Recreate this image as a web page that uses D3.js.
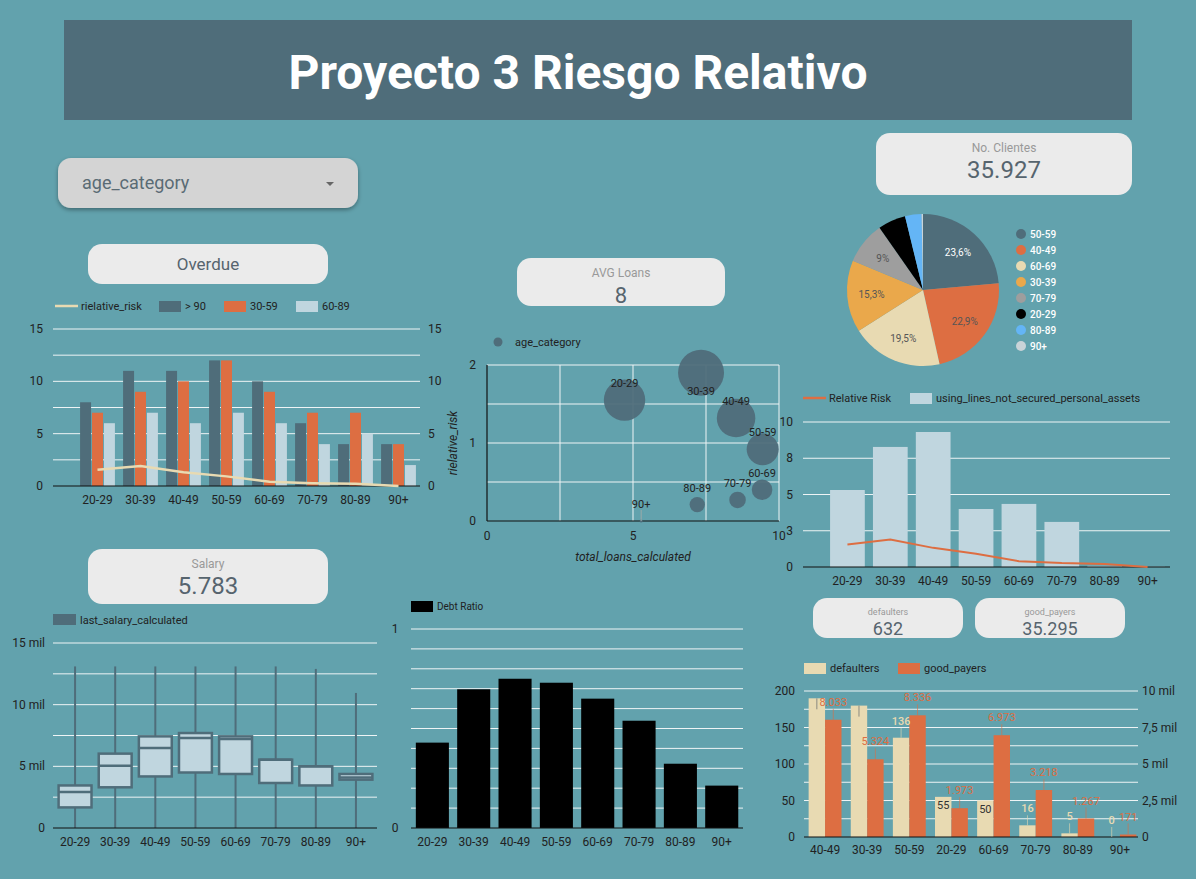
<!DOCTYPE html>
<html>
<head>
<meta charset="utf-8">
<script src="https://cdn.jsdelivr.net/npm/d3@7"></script>
<style>
  body { margin: 0; background: #62a2ad; }
  text { font-family: Roboto, 'Noto Sans', sans-serif; }
</style>
</head>
<body>
<script>
const ageCats = ['20-29', '30-39', '40-49', '50-59', '60-69', '70-79', '80-89', '90+']

// overdue counts per age group
const overdue90 = [8, 11, 11, 12, 10, 6, 4, 4]
const overdue30_59 = [7, 9, 10, 12, 9, 7, 7, 4]
const overdue60_89 = [6, 7, 6, 7, 6, 4, 5, 2]
const relativeRisk = [1.55, 1.9, 1.32, 0.92, 0.4, 0.27, 0.21, 0]

// bubble chart
const totalLoans = [4.71, 7.33, 8.53, 9.44, 9.42, 8.58, 7.2, 5.28]
const bubbleSize = [430, 530, 372, 256, 106, 69, 59, 2]

// unsecured lines
const unsecuredLines = [5.31, 8.28, 9.31, 4.0, 4.35, 3.11, 0.08, 0.02]

// pie
const pieCats = ['50-59', '40-49', '60-69', '30-39', '70-79', '20-29', '80-89', '90+']
const piePct = [23.6, 22.9, 19.5, 15.3, 9.0, 5.9, 3.5, 0.3]

// salary boxplot
const salaryMin = [0, 0, 0, 0, 0, 0, 0, 0]
const salaryQ1 = [1670, 3300, 4180, 4500, 4380, 3650, 3450, 3920]
const salaryMedian = [2920, 5050, 6490, 7300, 7220, 5540, 5000, 4100]
const salaryQ3 = [3450, 6030, 7430, 7700, 7430, 5540, 5000, 4380]
const salaryMax = [13100, 13100, 13100, 13100, 13100, 13100, 12900, 10950]

const debtRatio = [0.429, 0.697, 0.75, 0.73, 0.65, 0.539, 0.323, 0.213]

const payerCats = ['40-49', '30-39', '50-59', '20-29', '60-69', '70-79', '80-89', '90+']
const defaulters = [190, 180, 136, 55, 50, 16, 5, 0]
const goodPayers = [8033, 5324, 8336, 1973, 6973, 3218, 1267, 171]
const defaulterLabelsInside = ['20-29', '60-69']

const C = {
  dark: '#4f6d7a', orange: '#dd6e42', light: '#c0d6df', beige: '#e8dab2',
  grid: '#eef4f5', text: '#212121', card: '#ebebeb'
}
const pieColors = ['#4f6d7a', '#dd6e42', '#e8dab2', '#eaa84b', '#9e9e9e', '#000000', '#64b5f6', '#c9d3d8']

const loc = d3.formatLocale({ decimal: ',', thousands: '.', grouping: [3], currency: ['', ''] })
const fmtInt = loc.format(',d')
const fmtPct = d => loc.format('.1f')(d).replace(',0', '') + '%'

const svg = d3.select('body').append('svg')
  .attr('width', 1196)
  .attr('height', 879)

const defs = svg.append('defs')
const shadow = defs.append('filter').attr('id', 'shadow')
  .attr('x', '-10%').attr('y', '-20%').attr('width', '120%').attr('height', '150%')
shadow.append('feDropShadow').attr('dx', 0).attr('dy', 2).attr('stdDeviation', 2)
  .attr('flood-color', '#000').attr('flood-opacity', 0.35)

svg.append('rect').attr('width', 1196).attr('height', 879).attr('fill', '#62a2ad')

// title
svg.append('rect').attr('x', 64).attr('y', 20).attr('width', 1068).attr('height', 100).attr('fill', C.dark)
svg.append('text').attr('x', 578).attr('y', 89).attr('text-anchor', 'middle')
  .attr('fill', '#fff').attr('font-size', 48).attr('font-weight', 'bold')
  .text('Proyecto 3 Riesgo Relativo')

// filter control
svg.append('rect').attr('x', 58).attr('y', 158).attr('width', 300).attr('height', 50).attr('rx', 13)
  .attr('fill', '#d4d4d4').attr('filter', 'url(#shadow)')
svg.append('text').attr('x', 82).attr('y', 189).attr('font-size', 18).attr('fill', '#5a6b74').text('age_category')
svg.append('path').attr('d', 'M326,182 L334,182 L330,186 Z').attr('fill', '#666')

function card(x, y, w, h, label, value, o) {
  svg.append('rect').attr('x', x).attr('y', y).attr('width', w).attr('height', h).attr('rx', 14).attr('fill', C.card)
  if (label) {
    svg.append('text').attr('x', x + w / 2).attr('y', o.ly).attr('text-anchor', 'middle')
      .attr('font-size', o.ls).attr('fill', '#999').text(label)
  }
  svg.append('text').attr('x', x + w / 2).attr('y', o.vy).attr('text-anchor', 'middle')
    .attr('font-size', o.vs).attr('fill', '#56646e').text(value)
}

card(88, 244, 240, 40, null, 'Overdue', { vy: 270, vs: 17 })
card(517, 258, 208, 48, 'AVG Loans', '8', { ly: 277, ls: 12, vy: 303, vs: 22 })
card(876, 133, 256, 62, 'No. Clientes', '35.927', { ly: 152, ls: 12, vy: 178, vs: 24 })
card(88, 549, 240, 55, 'Salary', '5.783', { ly: 568, ls: 12, vy: 594, vs: 24 })
card(813, 598, 150, 40, 'defaulters', fmtInt(d3.sum(defaulters)), { ly: 615, ls: 9, vy: 635, vs: 18 })
card(975, 598, 150, 40, 'good_payers', '35.295', { ly: 615, ls: 9, vy: 635, vs: 18 })

function legendItem(x, y, color, label, kind) {
  if (kind === 'line') {
    svg.append('line').attr('x1', x).attr('x2', x + 23).attr('y1', y).attr('y2', y)
      .attr('stroke', color).attr('stroke-width', 2.5)
  } else {
    svg.append('rect').attr('x', x).attr('y', y - 5).attr('width', 22).attr('height', 11).attr('fill', color)
  }
  svg.append('text').attr('x', x + 26).attr('y', y + 4).attr('font-size', 11).attr('fill', C.text).text(label)
}

function gridlines(y, vals, x0, x1) {
  svg.append('g').selectAll('line').data(vals).enter().append('line')
    .attr('x1', x0).attr('x2', x1).attr('y1', d => y(d)).attr('y2', d => y(d))
    .attr('stroke', C.grid).attr('stroke-width', 1)
}

function yLabels(y, vals, x, anchor, fmt) {
  svg.append('g').selectAll('text').data(vals).enter().append('text')
    .attr('x', x).attr('y', d => y(d) + 4).attr('text-anchor', anchor)
    .attr('font-size', 12).attr('fill', C.text).text(fmt)
}

function xLabels(x, cats, y) {
  svg.append('g').selectAll('text').data(cats).enter().append('text')
    .attr('x', d => x(d) + x.bandwidth() / 2).attr('y', y).attr('text-anchor', 'middle')
    .attr('font-size', 12).attr('fill', C.text).text(d => d)
}

function baseline(y, x0, x1) {
  svg.append('line').attr('x1', x0).attr('x2', x1).attr('y1', y).attr('y2', y).attr('stroke', '#111').attr('stroke-width', 1.2)
}

// ---------- Overdue chart ----------
{
  const x = d3.scaleBand().domain(ageCats).range([76, 420]).paddingInner(0.19).paddingOuter(0.095)
  const x1 = d3.scaleBand().domain([0, 1, 2]).range([0, x.bandwidth()]).paddingInner(0.08)
  const y = d3.scaleLinear().domain([0, 15]).range([486, 329])
  gridlines(y, d3.range(2.5, 15.1, 2.5), 53, 420)
  yLabels(y, [0, 5, 10, 15], 43, 'end', d => d)
  yLabels(y, [0, 5, 10, 15], 428, 'start', d => d)
  const series = [overdue90, overdue30_59, overdue60_89]
  const colors = [C.dark, C.orange, C.light]
  series.forEach((s, i) => {
    svg.append('g').selectAll('rect').data(ageCats).enter().append('rect')
      .attr('x', d => x(d) + x1(i)).attr('width', x1.bandwidth())
      .attr('y', (d, j) => y(s[j])).attr('height', (d, j) => y(0) - y(s[j]))
      .attr('fill', colors[i])
  })
  baseline(y(0), 53, 420)
  svg.append('path').datum(ageCats)
    .attr('d', d3.line().x(d => x(d) + x.bandwidth() / 2).y((d, i) => y(relativeRisk[i])))
    .attr('fill', 'none').attr('stroke', C.beige).attr('stroke-width', 2.5)
  xLabels(x, ageCats, 504)
  legendItem(55, 306, C.beige, 'rielative_risk', 'line')
  legendItem(159, 306, C.dark, '> 90')
  legendItem(224, 306, C.orange, '30-59')
  legendItem(296, 306, C.light, '60-89')
}

// ---------- Bubble chart ----------
{
  const x = d3.scaleLinear().domain([0, 10]).range([487, 779])
  const y = d3.scaleLinear().domain([0, 2]).range([521, 365])
  const r = d3.scaleSqrt().domain([0, d3.max(bubbleSize)]).range([0, 23])
  gridlines(y, [0.5, 1, 1.5, 2], 487, 779)
  svg.append('g').selectAll('line').data([2.5, 5, 7.5, 10]).enter().append('line')
    .attr('x1', d => x(d)).attr('x2', d => x(d)).attr('y1', 365).attr('y2', 521)
    .attr('stroke', C.grid).attr('stroke-width', 1)
  baseline(y(0), 487, 779)
  svg.append('line').attr('x1', 487).attr('x2', 487).attr('y1', 365).attr('y2', 521).attr('stroke', '#111').attr('stroke-width', 1.2)
  yLabels(y, [0, 1, 2], 476, 'end', d => d)
  svg.append('g').selectAll('text').data([0, 5, 10]).enter().append('text')
    .attr('x', d => x(d)).attr('y', 540).attr('text-anchor', 'middle')
    .attr('font-size', 12).attr('fill', C.text).text(d => d)
  svg.append('text').attr('x', 633).attr('y', 561).attr('text-anchor', 'middle')
    .attr('font-size', 12).attr('font-style', 'italic').attr('fill', C.text).text('total_loans_calculated')
  svg.append('text').attr('transform', 'translate(457,443) rotate(-90)').attr('text-anchor', 'middle')
    .attr('font-size', 12).attr('font-style', 'italic').attr('fill', C.text).text('rielative_risk')

  const pts = ageCats.map((c, i) => ({ c, x: x(totalLoans[i]), y: y(relativeRisk[i]), r: r(bubbleSize[i]) }))
  svg.append('g').selectAll('circle').data(pts).enter().append('circle')
    .attr('cx', d => d.x).attr('cy', d => d.y).attr('r', d => Math.max(d.r, 1.5))
    .attr('fill', C.dark).attr('fill-opacity', 0.95)
  pts.forEach(d => { d.ly = d.y - 17 < 365 ? d.y + 18 : d.y - 17 })
  svg.append('g').selectAll('line').data(pts.filter(d => d.r < 3)).enter().append('line')
    .attr('x1', d => d.x).attr('x2', d => d.x).attr('y1', d => d.ly + 6).attr('y2', d => d.y)
    .attr('stroke', '#9aa').attr('stroke-width', 1)
  svg.append('g').selectAll('text').data(pts).enter().append('text')
    .attr('x', d => d.x).attr('y', d => d.ly + 4).attr('text-anchor', 'middle')
    .attr('font-size', 11).attr('fill', C.text).text(d => d.c)

  svg.append('circle').attr('cx', 498).attr('cy', 342).attr('r', 4.5).attr('fill', C.dark)
  svg.append('text').attr('x', 515).attr('y', 346).attr('font-size', 11).attr('fill', C.text).text('age_category')
}

// ---------- Pie ----------
{
  const cx = 923, cy = 290, R = 76
  const pie = d3.pie().sort(null).value(d => d)
  const arcs = pie(piePct)
  const arc = d3.arc().innerRadius(0).outerRadius(R)
  const labelArc = d3.arc().innerRadius(R * 0.68).outerRadius(R * 0.68)
  const g = svg.append('g').attr('transform', `translate(${cx},${cy})`)
  g.selectAll('path').data(arcs).enter().append('path')
    .attr('d', arc).attr('fill', (d, i) => pieColors[i])
  g.selectAll('text').data(arcs.filter(d => d.data >= 8)).enter().append('text')
    .attr('transform', d => `translate(${labelArc.centroid(d)})`)
    .attr('text-anchor', 'middle').attr('dy', 4).attr('font-size', 10)
    .attr('fill', d => d.index === 0 ? '#fff' : '#555')
    .text(d => fmtPct(d.data))

  const lg = svg.append('g').selectAll('g').data(pieCats).enter().append('g')
    .attr('transform', (d, i) => `translate(1021,${234 + i * 16})`)
  lg.append('circle').attr('r', 5).attr('fill', (d, i) => pieColors[i])
  lg.append('text').attr('x', 9).attr('y', 4).attr('font-size', 10).attr('font-weight', 500)
    .attr('fill', '#fff').text(d => d)
}

// ---------- Relative risk vs unsecured lines ----------
{
  const x = d3.scaleBand().domain(ageCats).range([826, 1169]).paddingInner(0.19).paddingOuter(0.095)
  const y = d3.scaleLinear().domain([0, 10]).range([567, 422])
  gridlines(y, [2.5, 5, 7.5, 10], 803, 1170)
  yLabels(y, [0, 2.5, 5, 7.5, 10], 793, 'end', d3.format('.0f'))
  svg.append('g').selectAll('rect').data(ageCats).enter().append('rect')
    .attr('x', d => x(d)).attr('width', x.bandwidth())
    .attr('y', (d, i) => y(unsecuredLines[i])).attr('height', (d, i) => y(0) - y(unsecuredLines[i]))
    .attr('fill', C.light)
  baseline(y(0), 803, 1170)
  svg.append('path').datum(ageCats)
    .attr('d', d3.line().x(d => x(d) + x.bandwidth() / 2).y((d, i) => y(relativeRisk[i])))
    .attr('fill', 'none').attr('stroke', C.orange).attr('stroke-width', 2)
  xLabels(x, ageCats, 585)
  legendItem(803, 398, C.orange, 'Relative Risk', 'line')
  legendItem(910, 398, C.light, 'using_lines_not_secured_personal_assets')
}

// ---------- Salary boxplot ----------
{
  const x = d3.scaleBand().domain(ageCats).range([55, 376]).paddingInner(0.18).paddingOuter(0.09)
  const y = d3.scaleLinear().domain([0, 15000]).range([828, 643])
  gridlines(y, d3.range(2500, 15001, 2500), 53, 377)
  yLabels(y, [0, 5000, 10000, 15000], 45, 'end', d => d === 0 ? '0' : (d / 1000) + ' mil')
  const g = svg.append('g').selectAll('g').data(ageCats).enter().append('g')
  g.append('line')
    .attr('x1', d => x(d) + x.bandwidth() / 2).attr('x2', d => x(d) + x.bandwidth() / 2)
    .attr('y1', (d, i) => y(salaryMin[i])).attr('y2', (d, i) => y(salaryMax[i]))
    .attr('stroke', C.dark).attr('stroke-width', 2)
  g.append('rect')
    .attr('x', d => x(d)).attr('width', x.bandwidth())
    .attr('y', (d, i) => y(salaryQ3[i])).attr('height', (d, i) => y(salaryQ1[i]) - y(salaryQ3[i]))
    .attr('fill', C.light).attr('stroke', C.dark).attr('stroke-width', 2.5)
  g.append('line')
    .attr('x1', d => x(d)).attr('x2', d => x(d) + x.bandwidth())
    .attr('y1', (d, i) => y(salaryMedian[i])).attr('y2', (d, i) => y(salaryMedian[i]))
    .attr('stroke', C.dark).attr('stroke-width', 2.5)
  baseline(y(0), 53, 377)
  xLabels(x, ageCats, 846)
  svg.append('rect').attr('x', 53).attr('y', 614).attr('width', 23).attr('height', 11).attr('fill', C.dark)
  svg.append('text').attr('x', 80).attr('y', 624).attr('font-size', 11).attr('fill', C.text).text('last_salary_calculated')
}

// ---------- Debt ratio ----------
{
  const x = d3.scaleBand().domain(ageCats).range([411.7, 742.4]).paddingInner(0.2).paddingOuter(0.1)
  const y = d3.scaleLinear().domain([0, 1]).range([828, 629])
  gridlines(y, d3.range(0.1, 1.01, 0.1), 411, 743)
  yLabels(y, [0, 1], 395, 'middle', d => d)
  svg.append('g').selectAll('rect').data(ageCats).enter().append('rect')
    .attr('x', d => x(d)).attr('width', x.bandwidth())
    .attr('y', (d, i) => y(debtRatio[i])).attr('height', (d, i) => y(0) - y(debtRatio[i]))
    .attr('fill', '#000')
  baseline(y(0), 411, 743)
  xLabels(x, ageCats, 846)
  svg.append('rect').attr('x', 411).attr('y', 601).attr('width', 22).attr('height', 11).attr('fill', '#000')
  svg.append('text').attr('x', 437).attr('y', 610).attr('font-size', 10).attr('fill', C.text).text('Debt Ratio')
}

// ---------- Defaulters vs good payers ----------
{
  const x = d3.scaleBand().domain(payerCats).range([804, 1141]).paddingInner(0.22).paddingOuter(0.11)
  const x1 = d3.scaleBand().domain([0, 1]).range([0, x.bandwidth()])
  const y = d3.scaleLinear().domain([0, 200]).range([837, 691])
  const y2 = d3.scaleLinear().domain([0, 10000]).range([837, 691])
  gridlines(y, d3.range(25, 201, 25), 804, 1138)
  yLabels(y, [0, 50, 100, 150, 200], 795, 'end', d => d)
  yLabels(y2, [0, 2500, 5000, 7500, 10000], 1142, 'start', d => d === 0 ? '0' : loc.format(',')(d / 1000) + ' mil')

  svg.append('g').selectAll('rect').data(payerCats).enter().append('rect')
    .attr('x', d => x(d)).attr('width', x1.bandwidth())
    .attr('y', (d, i) => y(defaulters[i])).attr('height', (d, i) => y(0) - y(defaulters[i]))
    .attr('fill', C.beige)
  svg.append('g').selectAll('rect').data(payerCats).enter().append('rect')
    .attr('x', d => x(d) + x1(1)).attr('width', x1.bandwidth())
    .attr('y', (d, i) => y2(goodPayers[i])).attr('height', (d, i) => y2(0) - y2(goodPayers[i]))
    .attr('fill', C.orange)
  baseline(y(0), 804, 1138)

  // defaulter labels
  payerCats.forEach((c, i) => {
    const cx = x(c) + x1.bandwidth() / 2
    const top = y(defaulters[i])
    if (defaulterLabelsInside.includes(c)) {
      svg.append('text').attr('x', cx).attr('y', top + 12).attr('text-anchor', 'middle')
        .attr('font-size', 11).attr('fill', '#333').text(fmtInt(defaulters[i]))
      return
    }
    const ly = top - 17
    if (ly < 691) {
      svg.append('line').attr('x1', cx).attr('x2', cx).attr('y1', top).attr('y2', top + 11)
        .attr('stroke', '#8a8a80').attr('stroke-width', 1)
      return
    }
    svg.append('line').attr('x1', cx).attr('x2', cx).attr('y1', ly + 7).attr('y2', top)
      .attr('stroke', C.beige).attr('stroke-opacity', 0.6).attr('stroke-width', 1)
    svg.append('text').attr('x', cx).attr('y', ly + 4).attr('text-anchor', 'middle')
      .attr('font-size', 11).attr('font-weight', 500).attr('fill', C.beige).text(fmtInt(defaulters[i]))
  })
  // good payer labels
  payerCats.forEach((c, i) => {
    const cx = x(c) + x1(1) + x1.bandwidth() / 2
    const top = y2(goodPayers[i])
    const ly = top - 18
    svg.append('line').attr('x1', cx).attr('x2', cx).attr('y1', ly + 7).attr('y2', top)
      .attr('stroke', C.orange).attr('stroke-opacity', 0.6).attr('stroke-width', 1)
    svg.append('text').attr('x', cx).attr('y', ly + 4).attr('text-anchor', 'middle')
      .attr('font-size', 11).attr('fill', C.orange).text(fmtInt(goodPayers[i]))
  })
  xLabels(x, payerCats, 854)
  legendItem(804, 668, C.beige, 'defaulters')
  legendItem(898, 668, C.orange, 'good_payers')
}
</script>
</body>
</html>
